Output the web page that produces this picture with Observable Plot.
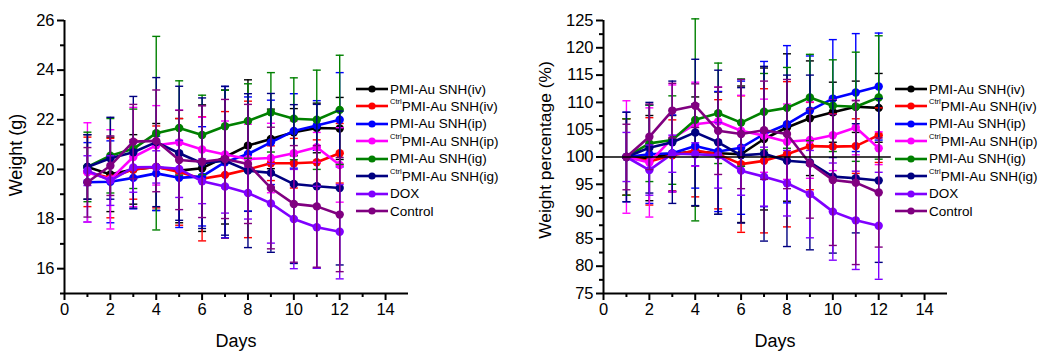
<!DOCTYPE html>
<html>
<head>
<meta charset="utf-8">
<script src="https://cdn.jsdelivr.net/npm/d3@7"></script>
<script src="https://cdn.jsdelivr.net/npm/@observablehq/plot@0.6"></script>
<style>
  html, body { margin: 0; padding: 0; background: #fff; }
  body { font-family: "Liberation Sans", Arial, sans-serif; color: #000; }
  #wrap { position: relative; width: 1041px; height: 352px; overflow: hidden; }
  .panel { position: absolute; top: 0; }
  .ytitle { position: absolute; font-size: 18px; white-space: nowrap; transform: translate(-50%, -50%) rotate(-90deg); }
  .xtitle { position: absolute; font-size: 18px; white-space: nowrap; transform: translate(-50%, -50%); }
  .legrow { position: absolute; display: flex; align-items: center; height: 18px; white-space: nowrap; font-size: 13.5px; }
  .legrow svg { display: block; margin-right: 1px; }
  .legrow sup { font-size: 7.5px; vertical-align: 0; position: relative; top: -5px; }
</style>
</head>
<body>
<div id="wrap"></div>
<script>
// ---------- data ----------
const days = [1, 2, 3, 4, 5, 6, 7, 8, 9, 10, 11, 12];
const seriesNames = ["PMI-Au SNH(iv)", "PMI-Au SNH(iv)", "PMI-Au SNH(ip)", "PMI-Au SNH(ip)", "PMI-Au SNH(ig)", "PMI-Au SNH(ig)", "DOX", "Control"];
const ctrlPrefix = [false, true, false, true, false, true, false, false];
const seriesColors = ["#000000", "#ff0000", "#0000ff", "#ff00ff", "#008000", "#000080", "#8000ff", "#800080"];

// Weight (g)
const weightIv      = [20.10, 19.80, 20.00, 20.10, 19.95, 20.05, 20.50, 20.96, 21.23, 21.50, 21.67, 21.65];
const weightCtrlIv  = [19.90, 19.65, 20.00, 20.10, 19.90, 19.62, 19.78, 20.00, 20.25, 20.25, 20.29, 20.65];
const weightIp      = [19.48, 19.50, 19.66, 19.84, 19.66, 19.72, 20.29, 20.62, 21.09, 21.55, 21.77, 22.00];
const weightCtrlIp  = [19.88, 19.60, 20.50, 20.97, 21.09, 20.80, 20.60, 20.42, 20.46, 20.65, 20.89, 20.18];
const weightIg      = [20.10, 20.55, 20.83, 21.46, 21.67, 21.39, 21.74, 21.95, 22.30, 22.04, 22.00, 22.40];
const weightCtrlIg  = [20.10, 20.45, 20.69, 21.10, 20.65, 20.25, 20.35, 19.95, 19.86, 19.41, 19.32, 19.25];
const weightDox     = [19.95, 19.55, 20.08, 20.10, 20.02, 19.52, 19.31, 19.05, 18.63, 18.00, 17.67, 17.49];
const weightControl = [19.48, 20.15, 21.12, 21.15, 20.38, 20.31, 20.42, 20.22, 19.25, 18.61, 18.51, 18.18];

const weightErrIv      = [1.30, 1.50, 1.40, 1.75, 2.10, 2.55, 2.70, 2.65, 1.20, 0.95, 1.00, 1.25];
const weightErrCtrlIv  = [1.40, 1.60, 1.20, 1.65, 2.15, 2.50, 2.55, 2.75, 0.70, 1.00, 0.90, 1.20];
const weightErrIp      = [1.60, 1.65, 1.25, 1.50, 2.00, 2.00, 3.05, 2.30, 1.70, 1.50, 1.00, 1.90];
const weightErrCtrlIp  = [2.00, 2.00, 2.00, 1.60, 1.30, 1.30, 1.35, 1.40, 1.40, 1.30, 0.60, 1.50];
const weightErrIg      = [1.40, 1.50, 1.60, 3.90, 1.90, 1.60, 1.45, 1.50, 1.60, 1.65, 2.00, 2.20];
const weightErrCtrlIg  = [1.30, 1.65, 2.25, 2.60, 2.70, 2.63, 3.00, 3.10, 3.20, 3.20, 3.30, 3.10];
const weightErrDox     = [0.60, 1.00, 1.00, 0.65, 1.15, 0.90, 1.07, 1.05, 1.60, 2.00, 1.65, 1.90];
const weightErrControl = [1.40, 1.20, 1.50, 2.05, 2.00, 2.25, 2.40, 2.40, 2.45, 2.35, 2.45, 2.30];

// Weight percentage (%)
const pctIv      = [100, 99.8, 100.6, 101.0, 100.7, 100.5, 103.3, 105.4, 107.1, 108.2, 109.2, 109.0];
const pctCtrlIv  = [100, 99.2, 100.3, 101.2, 100.5, 98.7, 99.3, 100.5, 102.0, 101.9, 102.0, 104.0];
const pctIp      = [100, 100.5, 100.7, 102.0, 101.0, 101.7, 104.2, 106.0, 108.5, 110.7, 111.8, 112.9];
const pctCtrlIp  = [100, 99.0, 103.4, 106.0, 106.5, 104.8, 103.9, 102.8, 103.1, 104.0, 105.4, 101.6];
const pctIg      = [100, 102.5, 103.1, 106.8, 108.0, 106.3, 108.3, 109.0, 110.9, 109.4, 109.2, 110.9];
const pctCtrlIg  = [100, 101.7, 102.7, 104.5, 102.7, 100.3, 100.6, 99.3, 99.0, 96.4, 96.1, 95.7];
const pctDox     = [100, 97.6, 100.6, 100.5, 100.3, 97.5, 96.4, 95.2, 93.2, 90.0, 88.4, 87.4];
const pctControl = [100, 103.7, 108.5, 109.4, 104.8, 104.2, 104.9, 104.2, 98.8, 95.8, 95.3, 93.5];

const pctErrIv      = [7.0, 7.8, 7.0, 10.0, 11.2, 12.5, 13.0, 13.5, 10.5, 5.5, 4.7, 6.3];
const pctErrCtrlIv  = [7.0, 8.0, 6.5, 8.5, 10.0, 12.5, 13.2, 13.3, 8.0, 6.0, 5.0, 5.0];
const pctErrIp      = [8.2, 9.0, 7.0, 7.7, 11.0, 12.2, 13.3, 14.4, 10.0, 10.8, 10.8, 9.8];
const pctErrCtrlIp  = [10.3, 10.0, 9.8, 7.7, 6.3, 6.5, 6.7, 6.9, 7.0, 6.5, 5.0, 3.0];
const pctErrIg      = [7.0, 7.0, 8.1, 18.5, 9.2, 8.0, 7.0, 7.4, 7.9, 8.4, 10.0, 11.3];
const pctErrCtrlIg  = [8.2, 8.3, 11.2, 13.4, 13.2, 12.4, 16.0, 15.7, 16.0, 14.0, 10.0, 15.0];
const pctErrDox     = [4.5, 4.6, 3.4, 2.1, 6.0, 4.5, 5.4, 6.0, 8.0, 8.9, 9.0, 9.8];
const pctErrControl = [6.0, 6.0, 5.0, 4.0, 8.0, 10.0, 9.0, 10.0, 10.0, 12.0, 15.0, 10.0];

const referenceLevel = [100];
const referenceSpan = [0, 12.55];

const xMajorTicks = [0, 2, 4, 6, 8, 10, 12, 14];
const xMinorTicks = [1, 3, 5, 7, 9, 11, 13];
const weightMajorTicks = [16, 18, 20, 22, 24, 26];
const weightMinorTicks = [15, 17, 19, 21, 23, 25];
const pctMajorTicks = [75, 80, 85, 90, 95, 100, 105, 110, 115, 120, 125];
const pctMinorTicks = [77.5, 82.5, 87.5, 92.5, 97.5, 102.5, 107.5, 112.5, 117.5, 122.5];

const weightSeries = [weightIv, weightCtrlIv, weightIp, weightCtrlIp, weightIg, weightCtrlIg, weightDox, weightControl];
const weightErrSeries = [weightErrIv, weightErrCtrlIv, weightErrIp, weightErrCtrlIp, weightErrIg, weightErrCtrlIg, weightErrDox, weightErrControl];
const pctSeries = [pctIv, pctCtrlIv, pctIp, pctCtrlIp, pctIg, pctCtrlIg, pctDox, pctControl];
const pctErrSeries = [pctErrIv, pctErrCtrlIv, pctErrIp, pctErrCtrlIp, pctErrIg, pctErrCtrlIg, pctErrDox, pctErrControl];

// ---------- drawing ----------
const capSymbol = {
  draw(context, size) {
    const w = Math.sqrt(size / Math.PI);
    context.moveTo(-w, 0);
    context.lineTo(w, 0);
  }
};

function seriesMarks(values, errors) {
  const marks = [];
  values.forEach((vals, i) => {
    const color = seriesColors[i];
    const data = days.map((d, j) => ({day: d, v: vals[j], lo: vals[j] - errors[i][j], hi: vals[j] + errors[i][j]}));
    marks.push(Plot.ruleX(data, {x: "day", y1: "lo", y2: "hi", stroke: color, strokeWidth: 1.4}));
    marks.push(Plot.dot(data, {x: "day", y: "hi", symbol: capSymbol, r: 4, fill: "none", stroke: color, strokeWidth: 1.4}));
    marks.push(Plot.dot(data, {x: "day", y: "lo", symbol: capSymbol, r: 4, fill: "none", stroke: color, strokeWidth: 1.4}));
    marks.push(Plot.line(data, {x: "day", y: "v", stroke: color, strokeWidth: 2.6}));
    marks.push(Plot.dot(data, {x: "day", y: "v", r: 4.2, fill: color, stroke: "none"}));
  });
  return marks;
}

function axisMarks(yDomain, yMajor, yMinor) {
  return [
    Plot.axisX({ticks: xMajorTicks, tickSize: 7, tickPadding: 3, strokeWidth: 2, fontSize: 16.5, label: null, tickFormat: d => String(d)}),
    Plot.axisX({ticks: xMinorTicks, tickSize: 4, strokeWidth: 2, label: null, tickFormat: () => ""}),
    Plot.axisY({ticks: yMajor, tickSize: 7, tickPadding: 3, strokeWidth: 2, fontSize: 16.5, label: null, tickFormat: d => String(d)}),
    Plot.axisY({ticks: yMinor, tickSize: 4, strokeWidth: 2, label: null, tickFormat: () => ""}),
    Plot.ruleX([0], {stroke: "#000", strokeWidth: 2}),
    Plot.ruleY([yDomain[0]], {stroke: "#000", strokeWidth: 2})
  ];
}

const wrap = document.getElementById("wrap");

const leftPlot = Plot.plot({
  width: 520, height: 352,
  marginLeft: 64, marginRight: 112, marginTop: 20, marginBottom: 59,
  style: {background: "transparent", color: "#000", fontFamily: "'Liberation Sans', Arial, sans-serif"},
  x: {domain: [0, 15]},
  y: {domain: [15, 26]},
  marks: [
    ...seriesMarks(weightSeries, weightErrSeries),
    ...axisMarks([15, 26], weightMajorTicks, weightMinorTicks)
  ]
});
leftPlot.classList.add("panel");
leftPlot.style.left = "0px";
wrap.appendChild(leftPlot);

const rightPlot = Plot.plot({
  width: 521, height: 352,
  marginLeft: 83, marginRight: 94, marginTop: 20, marginBottom: 59,
  style: {background: "transparent", color: "#000", fontFamily: "'Liberation Sans', Arial, sans-serif"},
  x: {domain: [0, 15]},
  y: {domain: [75, 125]},
  marks: [
    ...seriesMarks(pctSeries, pctErrSeries),
    Plot.ruleY(referenceLevel, {x1: referenceSpan[0], x2: referenceSpan[1], stroke: "#000", strokeWidth: 1.4}),
    ...axisMarks([75, 125], pctMajorTicks, pctMinorTicks)
  ]
});
rightPlot.classList.add("panel");
rightPlot.style.left = "520px";
wrap.appendChild(rightPlot);

// titles
function addText(cls, text, x, y, size) {
  const el = document.createElement("div");
  el.className = cls;
  el.textContent = text;
  el.style.left = x + "px";
  el.style.top = y + "px";
  if (size) el.style.fontSize = size + "px";
  wrap.appendChild(el);
}
addText("ytitle", "Weight (g)", 16, 155, 18);
addText("xtitle", "Days", 236, 341, 18);
addText("ytitle", "Weight percentage (%)", 545, 150, 17.4);
addText("xtitle", "Days", 775, 341, 18);

// legends
function addLegend(left, top) {
  seriesNames.forEach((name, i) => {
    const row = document.createElement("div");
    row.className = "legrow";
    row.style.left = left + "px";
    row.style.top = (top + i * 17.45 - 9) + "px";
    const c = seriesColors[i];
    row.innerHTML =
      `<svg width="33" height="18"><line x1="0" y1="9" x2="32" y2="9" stroke="${c}" stroke-width="2.6"/>` +
      `<circle cx="16" cy="9" r="3.6" fill="${c}"/></svg>` +
      (ctrlPrefix[i] ? `<sup>Ctrl</sup>` : "") + `<span>${name}</span>`;
    wrap.appendChild(row);
  });
}
addLegend(356, 89);
addLegend(895, 89);
</script>
</body>
</html>
